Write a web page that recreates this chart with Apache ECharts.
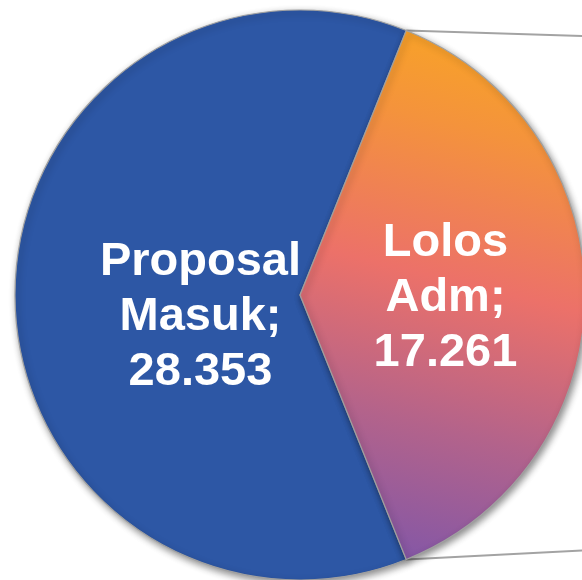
<!DOCTYPE html>
<html>
<head>
<meta charset="utf-8">
<script src="https://cdn.jsdelivr.net/npm/echarts@6/dist/echarts.min.js"></script>
<style>
html,body{margin:0;padding:0;background:#fff;}
#c{width:582px;height:580px;}
</style>
</head>
<body>
<div id="c"></div>
<script>
// ---- data ----
const categories = ['Proposal Masuk', 'Lolos Adm'];
const values = [28353, 17261];

// ---- styling ----
const CENTER = [300, 295];
const RADIUS = 285;
const blue = '#2D57A5';

function fmt(v) {
  return String(v).replace(/\B(?=(\d{3})+(?!\d))/g, '.');
}

const total = values.reduce((a, b) => a + b, 0);
const fracL = values[1] / total;
const fracP = values[0] / total;
// place the "Lolos Adm" slice centred on the right (0 deg)
const startAngle = 180 * fracL + 360 * fracP;
const halfL = 180 * fracL * Math.PI / 180;

const lolosGradient = new echarts.graphic.LinearGradient(0.8, 0, 0.35, 1, [
  { offset: 0, color: '#F9A623' },
  { offset: 0.2, color: '#F4933C' },
  { offset: 0.48, color: '#EC7169' },
  { offset: 0.75, color: '#B3638B' },
  { offset: 1, color: '#8457A6' }
]);

const chart = echarts.init(document.getElementById('c'), null, { renderer: 'canvas' });

// connector lines (decoration to the off-canvas secondary pie)
const topPt = [CENTER[0] + RADIUS * Math.cos(halfL), CENTER[1] - RADIUS * Math.sin(halfL)];
const botPt = [CENTER[0] + RADIUS * Math.cos(halfL), CENTER[1] + RADIUS * Math.sin(halfL)];

chart.setOption({
  backgroundColor: '#ffffff',
  animation: false,
  graphic: [
    { type: 'line', z: -1, shape: { x1: topPt[0], y1: topPt[1], x2: 600, y2: topPt[1] + 6 },
      style: { stroke: '#A3A3A3', lineWidth: 2 } },
    { type: 'line', z: -1, shape: { x1: botPt[0], y1: botPt[1], x2: 600, y2: botPt[1] - 10 },
      style: { stroke: '#A3A3A3', lineWidth: 2 } }
  ],
  series: [{
    type: 'pie',
    center: CENTER,
    radius: RADIUS,
    startAngle: startAngle,
    clockwise: true,
    avoidLabelOverlap: false,
    data: categories.map((n, i) => ({
      name: n,
      value: values[i],
      itemStyle: { color: i === 0 ? blue : lolosGradient }
    })),
    itemStyle: {
      borderColor: '#A0A0A0',
      borderWidth: 1.2,
      shadowColor: 'rgba(0,0,0,0.45)',
      shadowBlur: 7,
      shadowOffsetX: 2,
      shadowOffsetY: 3
    },
    label: {
      show: true,
      position: 'inside',
      color: '#ffffff',
      fontFamily: 'Liberation Sans, Arial, sans-serif',
      fontWeight: 'bold',
      fontSize: 47,
      lineHeight: 55,
      align: 'center',
      formatter: p => p.name.split(' ').join('\n') + ';\n' + fmt(p.value)
    },
    labelLayout: function (params) {
      if (params.dataIndex === 0) return { dx: 46, dy: 22 };
      return { dx: 0, dy: 3 };
    },
    labelLine: { show: false },
    emphasis: { disabled: true }
  }]
});
</script>
</body>
</html>
